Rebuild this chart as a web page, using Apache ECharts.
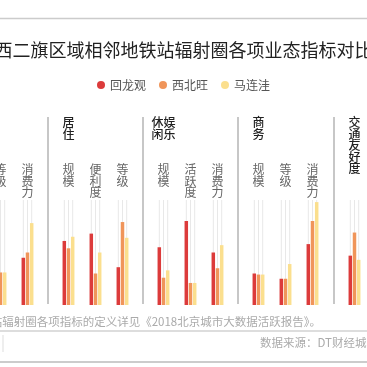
<!DOCTYPE html>
<html><head><meta charset="utf-8">
<style>html,body{margin:0;padding:0;background:#fff}#c{width:367px;height:367px}</style>
<script src="https://cdn.jsdelivr.net/npm/echarts@6/dist/echarts.min.js"></script>
</head><body><div id="c"></div>
<script>
// ---- data ----
const titleText = '西二旗区域相邻地铁站辐射圈各项业态指标对比';
const seriesNames = ['回龙观', '西北旺', '马连洼'];
const groupNames = ['餐饮', '居住', '休闲娱乐', '商务', '交通友好度'];
const groupCats = [
  ['规模', '等级', '消费力'],
  ['规模', '便利度', '等级'],
  ['规模', '活跃度', '消费力'],
  ['规模', '等级', '消费力'],
  ['']
];
// values per group (off-screen ones unknown -> null)
const huilongguan = [[null, null, 45], [61, 68, 36], [55, 80, 50], [30, 25, 58], [47]];
const xibeiwang   = [[null, 31, 50],   [54, 30, 79], [26, 21, 35], [29, 25, 80], [69]];
const malianwa    = [[null, 31, 78],   [65, 50, 64], [33, 21, 57], [29, 39, 98], [43]];
const noteText = '注：地铁站辐射圈各项指标的定义详见《2018北京城市大数据活跃报告》。';
const sourceText = '数据来源：DT财经城市数据';

// ---- layout / style ----
const colors = ['#dc3b3b', '#f0955a', '#fbdf8e'];
const FONT = '"Noto Sans CJK SC", sans-serif';
const sepX = [48, 143, 238, 334];
const catW = 27, pad = 7, gridTop = 200, gridBottom = 62;
const values = [huilongguan, xibeiwang, malianwa];

function vertical(t) {
  const c = t.split('');
  if (c.length === 4) return c[0] + c[2] + '\n' + c[1] + c[3];
  return c.join('\n');
}

const grids = [], xAxes = [], yAxes = [], series = [], graphics = [];
groupNames.forEach((g, gi) => {
  const n = groupCats[gi].length;
  const left = gi === 0 ? sepX[0] - pad - n * catW : sepX[gi - 1] + pad;
  grids.push({ left: left, width: n * catW, top: gridTop, bottom: gridBottom,
    outerBoundsMode: 'none', containLabel: false });
  xAxes.push({
    type: 'category', gridIndex: gi, position: 'top', data: groupCats[gi],
    axisLine: { show: false }, axisTick: { show: false },
    axisLabel: {
      interval: 0, margin: 36, verticalAlign: 'top', color: '#666',
      fontSize: 12, lineHeight: 11.5, fontFamily: FONT,
      formatter: v => v.split('').join('\n')
    }
  });
  xAxes.push({ type: 'category', gridIndex: gi, position: 'bottom', data: groupCats[gi], show: false });
  yAxes.push({ type: 'value', gridIndex: gi, min: 0, max: 100, show: false });
  seriesNames.forEach((s, si) => {
    series.push({
      name: s, type: 'bar', xAxisIndex: gi * 2, yAxisIndex: gi,
      data: values[si][gi], barWidth: 3.5, barGap: '20%',
      itemStyle: { color: colors[si] }, z: 3, animation: false
    });
    series.push({
      name: 'guide', type: 'bar', xAxisIndex: gi * 2 + 1, yAxisIndex: gi,
      data: values[si][gi], barWidth: 1, barGap: '320%',
      itemStyle: { color: 'rgba(0,0,0,0)' },
      showBackground: true, backgroundStyle: { color: '#e8e8e8' },
      z: 1, silent: true, animation: false
    });
  });
  graphics.push({
    type: 'text', x: left + catW / 2, y: 117,
    style: { text: vertical(g), font: '500 12px ' + FONT, fill: '#222',
      align: 'center', verticalAlign: 'top', lineHeight: 11.5 }
  });
});
sepX.forEach(x => graphics.push({
  type: 'line', shape: { x1: x, y1: 117, x2: x, y2: 304 },
  style: { stroke: '#b5b5b5', lineWidth: 1.5 }
}));
graphics.push(
  { type: 'line', shape: { x1: 0, y1: 18.5, x2: 367, y2: 18.5 }, style: { stroke: '#cccccc', lineWidth: 1.5 } },
  { type: 'line', shape: { x1: 0, y1: 331, x2: 367, y2: 331 }, style: { stroke: '#d2d2d2', lineWidth: 1.5 } },
  { type: 'line', shape: { x1: 0, y1: 362, x2: 367, y2: 362 }, style: { stroke: '#cccccc', lineWidth: 2 } },
  { type: 'line', shape: { x1: 3, y1: 335, x2: 3, y2: 352 }, style: { stroke: '#dddddd', lineWidth: 1 } },
  { type: 'text', x: 321, y: 322, style: { text: noteText, font: '11.5px ' + FONT, fill: '#aaaaaa', align: 'right', verticalAlign: 'middle' } },
  { type: 'text', x: 260, y: 343, style: { text: sourceText, font: '11.5px ' + FONT, fill: '#aaaaaa', align: 'left', verticalAlign: 'middle' } }
);

const chart = echarts.init(document.getElementById('c'), null, { renderer: 'canvas' });
chart.setOption({
  animation: false,
  backgroundColor: '#fff',
  textStyle: { fontFamily: FONT },
  title: { text: titleText, left: 'center', top: 36,
    textStyle: { fontSize: 18, fontWeight: 'normal', color: '#222', fontFamily: FONT } },
  legend: { data: seriesNames, top: 74, left: 'center', icon: 'circle',
    itemWidth: 8, itemHeight: 8, itemGap: 13,
    textStyle: { fontSize: 12, color: '#555', fontFamily: FONT } },
  grid: grids, xAxis: xAxes, yAxis: yAxes, series: series, graphic: graphics
});
</script></body></html>
